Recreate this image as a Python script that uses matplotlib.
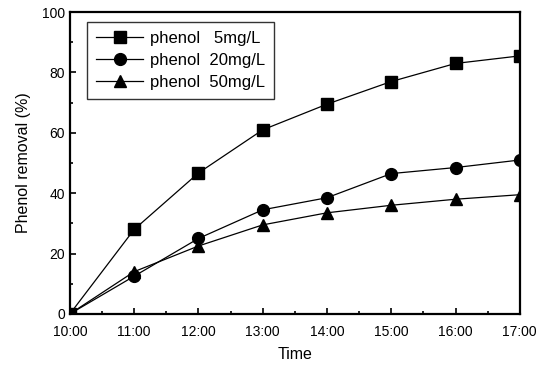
import matplotlib
matplotlib.use("Agg")
import matplotlib.pyplot as plt
from matplotlib.ticker import MultipleLocator

plt.rcParams['font.family'] = ['Liberation Sans', 'DejaVu Sans']

times = ["10:00", "11:00", "12:00", "13:00", "14:00", "15:00", "16:00", "17:00"]
phenol_5 = [0, 28, 46.7, 61, 69.5, 77, 83, 85.5]
phenol_20 = [0, 12.5, 25, 34.5, 38.5, 46.5, 48.5, 51]
phenol_50 = [0, 14, 22.5, 29.5, 33.5, 36, 38, 39.5]
labels = ["phenol   5mg/L", "phenol  20mg/L", "phenol  50mg/L"]

x = list(range(len(times)))

fig = plt.figure(figsize=(5.42, 3.68), dpi=100)
ax = fig.add_axes([0.129, 0.147, 0.830, 0.820])

ax.plot(x, phenol_5, color='black', lw=0.9, marker='s', ms=8.5, label=labels[0])
ax.plot(x, phenol_20, color='black', lw=0.9, marker='o', ms=8.5, label=labels[1])
ax.plot(x, phenol_50, color='black', lw=0.9, marker='^', ms=8.5, label=labels[2])

ax.set_xlim(0, len(times) - 1)
ax.set_ylim(0, 100)
ax.set_xticks(x)
ax.set_xticklabels(times)
ax.xaxis.set_minor_locator(MultipleLocator(0.5))
ax.yaxis.set_major_locator(MultipleLocator(20))
ax.yaxis.set_minor_locator(MultipleLocator(10))
ax.tick_params(which='both', direction='in', labelsize=10, width=1.2)
ax.tick_params(which='major', length=4)
ax.tick_params(which='minor', length=2.5)
ax.tick_params(axis='x', pad=8)
for s in ax.spines.values():
    s.set_linewidth(1.6)

ax.set_xlabel("Time", fontsize=11.5, labelpad=6)
ax.set_ylabel("Phenol removal (%)", fontsize=11.5, labelpad=8)

leg = ax.legend(loc='upper left', bbox_to_anchor=(0.038, 0.967), fontsize=12,
                frameon=True, fancybox=False, edgecolor='black',
                handlelength=2.8, borderpad=0.55, labelspacing=0.4,
                handletextpad=0.4, borderaxespad=0)
leg.get_frame().set_linewidth(1.0)

fig.savefig("out.png", dpi=100)
